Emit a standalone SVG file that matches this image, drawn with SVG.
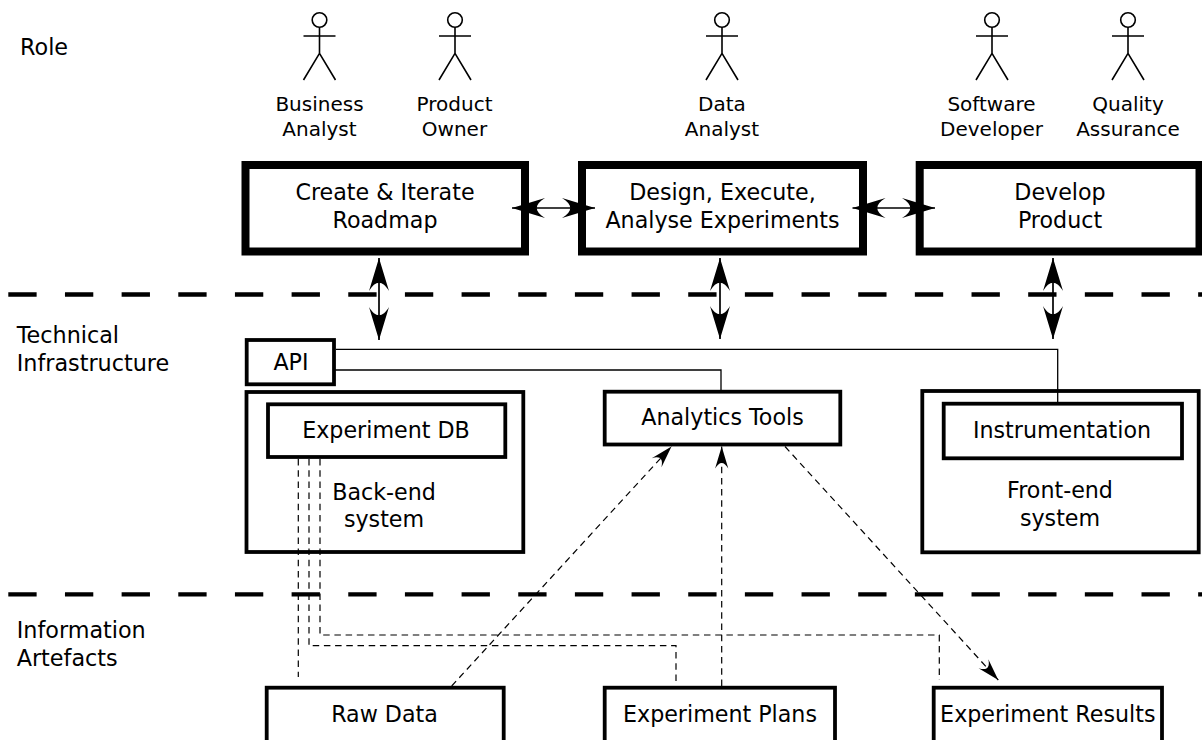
<svg xmlns="http://www.w3.org/2000/svg" width="1202" height="740" viewBox="0 0 1202 740">
<style>
text{font-family:"DejaVu Sans","Liberation Sans",sans-serif;fill:#000}
.t{font-size:22.2px;text-anchor:middle}
.r{font-size:20px;text-anchor:middle}
.lab{font-size:22.3px}
.big{fill:#fff;stroke:#000;stroke-width:8}
.box{fill:#fff;stroke:#000;stroke-width:3.8}
.actor{fill:none;stroke:#000;stroke-width:1.6}
.sep{stroke:#000;stroke-width:4.3;stroke-dasharray:28.33 28.33;fill:none}
.arr{stroke:#000;stroke-width:1.7;fill:none;marker-start:url(#bigA);marker-end:url(#bigA)}
.sol{stroke:#000;stroke-width:1.3;fill:none}
.dash{stroke:#000;stroke-width:1.2;fill:none;stroke-dasharray:6.5 4.7}
.da{marker-end:url(#smallA)}
</style>
<defs>
<marker id="bigA" markerUnits="userSpaceOnUse" orient="auto-start-reverse" refX="0" refY="0" markerWidth="40" markerHeight="30" overflow="visible">
<path d="M0,0 L-33,-10 C-22,-3.5 -22,3.5 -33,10 Z" fill="#000"/>
</marker>
<marker id="smallA" markerUnits="userSpaceOnUse" orient="auto" refX="0" refY="0" markerWidth="30" markerHeight="20" overflow="visible">
<path d="M0,0 L-22,-6.6 C-14.5,-2.3 -14.5,2.3 -22,6.6 Z" fill="#000"/>
</marker>
<g id="actor" class="actor">
<circle cx="0" cy="20" r="7.3"/>
<path d="M-16,36 H16 M0,27.3 V53.3 L-16,80 M0,53.3 L16,80"/>
</g>
</defs>
<g id="lane-labels">
<text class="lab" x="20" y="55">Role</text>
<text class="lab" x="16.7" y="343">Technical</text>
<text class="lab" x="16.7" y="371">Infrastructure</text>
<text class="lab" x="16.7" y="638">Information</text>
<text class="lab" x="16.7" y="666">Artefacts</text>
</g>
<g id="separators">
<path class="sep" d="M8.3,294.5 H1202"/>
<path class="sep" d="M8.3,594.3 H1202"/>
</g>
<g id="actor-business-analyst">
<use href="#actor" x="319.5" y="0"/>
<text class="r" x="319.5" y="111">Business</text>
<text class="r" x="319.5" y="136">Analyst</text>
</g>
<g id="actor-product-owner">
<use href="#actor" x="455" y="0"/>
<text class="r" x="454.5" y="111">Product</text>
<text class="r" x="454.5" y="136">Owner</text>
</g>
<g id="actor-data-analyst">
<use href="#actor" x="722" y="0"/>
<text class="r" x="722" y="111">Data</text>
<text class="r" x="722" y="136">Analyst</text>
</g>
<g id="actor-software-developer">
<use href="#actor" x="992" y="0"/>
<text class="r" x="991.5" y="111">Software</text>
<text class="r" x="991.5" y="136">Developer</text>
</g>
<g id="actor-quality-assurance">
<use href="#actor" x="1128" y="0"/>
<text class="r" x="1128" y="111">Quality</text>
<text class="r" x="1128" y="136">Assurance</text>
</g>
<g id="roadmap">
<rect class="big" x="245.5" y="165" width="279.5" height="86.5"/>
<text class="t" x="385" y="200">Create &amp; Iterate</text>
<text class="t" x="385" y="228">Roadmap</text>
</g>
<g id="experiments">
<rect class="big" x="582" y="165" width="281" height="86.5"/>
<text class="t" x="722.5" y="200">Design, Execute,</text>
<text class="t" x="722.5" y="228">Analyse Experiments</text>
</g>
<g id="develop">
<rect class="big" x="919.7" y="165" width="279.8" height="86.5"/>
<text class="t" x="1060" y="200">Develop</text>
<text class="t" x="1060" y="228">Product</text>
</g>
<g id="api">
<rect class="box" x="246.7" y="340" width="87.3" height="44.3"/>
<text class="t" x="291" y="370">API</text>
</g>
<g id="backend">
<rect class="box" x="246.5" y="392" width="276.8" height="160"/>
<text class="t" x="384" y="499.5">Back-end</text>
<text class="t" x="384" y="527">system</text>
</g>
<g id="experiment-db">
<rect class="box" x="268" y="404.3" width="237.3" height="52.7"/>
<text class="t" x="386" y="438.3">Experiment DB</text>
</g>
<g id="analytics-tools">
<rect class="box" x="604.7" y="391.7" width="235.6" height="52.8"/>
<text class="t" x="722.5" y="425">Analytics Tools</text>
</g>
<g id="frontend">
<rect class="box" x="922.3" y="391" width="276.4" height="161.3"/>
<text class="t" x="1060" y="498.3">Front-end</text>
<text class="t" x="1060" y="525.7">system</text>
</g>
<g id="instrumentation">
<rect class="box" x="943.7" y="403.7" width="238.3" height="54.6"/>
<text class="t" x="1062" y="438.3">Instrumentation</text>
</g>
<g id="raw-data">
<rect class="box" x="266.7" y="687.7" width="237" height="80"/>
<text class="t" x="384.5" y="721.7">Raw Data</text>
</g>
<g id="experiment-plans">
<rect class="box" x="604.7" y="687.7" width="230.3" height="80"/>
<text class="t" x="720" y="721.7">Experiment Plans</text>
</g>
<g id="experiment-results">
<rect class="box" x="933.7" y="687.7" width="228.3" height="80"/>
<text class="t" x="1047.8" y="721.7">Experiment Results</text>
</g>
<g id="connectors">
<path class="arr" d="M512,208 H595"/>
<path class="arr" d="M852.5,208 H935"/>
<path class="arr" d="M379,258 V340"/>
<path class="arr" d="M720,258 V339"/>
<path class="arr" d="M1053,258 V339"/>
<path class="sol" d="M336,349.3 H1057.7 V402"/>
<path class="sol" d="M334,370 H721 V390"/>
<path class="dash" d="M298.3,459 V677"/>
<path class="dash" d="M309,459 V645.7 H676 V683.5"/>
<path class="dash" d="M320,459 V635 H939.3 V680"/>
<path class="dash da" d="M451.7,686 L671.5,446.5"/>
<path class="dash da" d="M721.7,686 V446.5"/>
<path class="dash da" d="M785,446.5 L998.3,680"/>
</g>
</svg>
